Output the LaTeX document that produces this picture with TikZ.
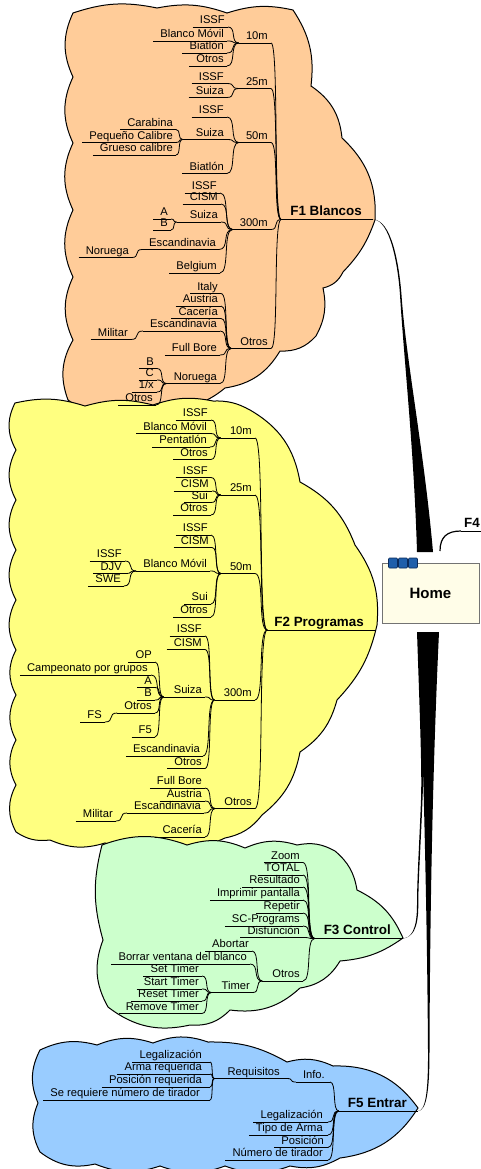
\documentclass[tikz,border=0pt]{standalone}
\usepackage{fontspec}
\setmainfont{Liberation Sans}
\usetikzlibrary{calc}
\definecolor{cFa}{HTML}{FFCC99}
\definecolor{cFb}{HTML}{FFFF80}
\definecolor{cFc}{HTML}{CCFFCC}
\definecolor{cFe}{HTML}{99CCFF}
\definecolor{homefill}{HTML}{FFFDE8}
\definecolor{sqfill}{HTML}{1F5FAA}
\definecolor{sqdraw}{HTML}{0A2A5A}
\tikzset{
  lpad/.initial=6pt,
  rpad/.initial=2pt,
  tlpad/.initial=9pt,
  trpad/.initial=11pt,
  ul/.style={draw=black, line width=0.8pt},
  cn/.style={draw=black, line width=0.8pt},
  lf/.style={font=\fontsize{11.2}{13}\selectfont, inner xsep=1pt, inner ysep=3pt, text depth=0pt, anchor=south east,
    execute at begin node={\hspace*{\pgfkeysvalueof{/tikz/lpad}}},
    execute at end node={\hspace*{\pgfkeysvalueof{/tikz/rpad}}},
    append after command={(\tikzlastnode.south west) edge[ul] (\tikzlastnode.south east)}},
  ttl/.style={font=\fontsize{13.4}{16}\selectfont\bfseries, inner xsep=0pt, inner ysep=3.5pt, text depth=0pt, anchor=south east,
    execute at begin node={\hspace*{\pgfkeysvalueof{/tikz/tlpad}}},
    execute at end node={\hspace*{\pgfkeysvalueof{/tikz/trpad}}},
    append after command={(\tikzlastnode.south west) edge[ul] (\tikzlastnode.south east)}},
  cloud/.style={draw=black, line width=1pt},
  bo/.style={bend left=#1},
}
\newcommand\cnx[2]{\draw[cn] let \p1=(#1.south east), \p2=(#2.south west), \n1={max(0.8*(\x2-\x1),2)} in (\p1) .. controls +(\n1,0) and +(-\n1,0) .. (\p2);}
\begin{document}
\begin{tikzpicture}[x=1pt,y=-1pt]
\useasboundingbox (0,0) rectangle (481,1169);
% ---------- clouds ----------
\path[cloud, fill=cFa] (73,13) to[bo=15] (157,8) to[bo=15] (227,13) to[bo=15] (293,10) to[bo=20] (311,86) to[bo=25] (342,138) to[bo=25] (375,220) to[bo=12] (343,272) to[bo=25] (323,288) to[bo=20] (316,336) to[bo=25] (280,351) to[bo=25] (225,388) to[bo=25] (160,405) to[bo=20] (100,410) to[bo=20] (68,400) to[bo=25] (73,340) to[bo=25] (73,277) to[bo=25] (73,210) to[bo=25] (73,143) to[bo=25] (73,77) to[bo=25] (73,13) -- cycle;
\path[cloud, fill=cFb] (15,403) to[bo=15] (85,406) to[bo=15] (153,405) to[bo=15] (213,401) to[bo=15] (250,410) to[bo=25] (300,482) to[bo=20] (355,545) to[bo=20] (377,625) to[bo=15] (337,700) to[bo=20] (300,752) to[bo=20] (262,815) to[bo=20] (225,838) to[bo=20] (165,843) to[bo=20] (105,843) to[bo=20] (50,840) to[bo=20] (16,832) to[bo=28] (16,785) to[bo=28] (16,740) to[bo=28] (16,695) to[bo=28] (16,650) to[bo=28] (16,600) to[bo=28] (16,550) to[bo=28] (16,500) to[bo=28] (16,450) to[bo=28] (15,403) -- cycle;
\path[cloud, fill=cFc] (102,845) to[bo=20] (187,845) to[bo=20] (245,848) to[bo=20] (297,845) to[bo=20] (335,851) to[bo=20] (357,890) to[bo=20] (403,938) to[bo=15] (340,961) to[bo=25] (300,988) to[bo=25] (230,1010) to[bo=25] (190,1025) to[bo=25] (108,1007) to[bo=25] (103,940) to[bo=15] (102,845) -- cycle;
\path[cloud, fill=cFe] (40,1050) to[bo=20] (97,1045) to[bo=20] (153,1043) to[bo=20] (208,1042) to[bo=15] (287,1062) to[bo=20] (333,1066) to[bo=28] (418,1108) to[bo=25] (340,1158) to[bo=20] (290,1166) to[bo=20] (225,1166) to[bo=20] (160,1166) to[bo=20] (95,1164) to[bo=25] (40,1152) to[bo=25] (38,1103) to[bo=25] (40,1050) -- cycle;
% ---------- Home ----------
\node[draw=gray!90!black, line width=0.8pt, fill=homefill, minimum width=97pt, minimum height=60pt, inner sep=0pt,
      font=\fontsize{15}{18}\selectfont\bfseries] (home) at (430.5,593) {Home};
\foreach \i in {0,1,2} {\filldraw[fill=sqfill, draw=sqdraw, line width=0.6pt, rounded corners=1pt] (388.5+10*\i,558) rectangle ++(9,10);}
% ---------- F1 ----------
\node[ttl] (f1) at (373,219.5) {F1 Blancos};
\node[lf] (m10) at (271,43) {10m};
\node[lf] (m10a) at (228,27) {ISSF};
\node[lf] (m10b) at (227,41) {Blanco Móvil};
\node[lf] (m10c) at (227,53) {Biatlón};
\node[lf] (m10d) at (227,66) {Otros};
\node[lf] (m25) at (271,88.5) {25m};
\node[lf] (m25a) at (227,83.5) {ISSF};
\node[lf] (m25b) at (227,97.5) {Suiza};
\node[lf] (m50) at (271,142.5) {50m};
\node[lf] (m50a) at (227,117) {ISSF};
\node[lf, lpad=12pt] (m50b) at (227,139.5) {Suiza};
\node[lf] (m50b1) at (176,129.5) {Carabina};
\node[lf] (m50b2) at (176,142.5) {Pequeño Calibre};
\node[lf] (m50b3) at (176,155) {Grueso calibre};
\node[lf] (m50c) at (227,173.5) {Biatlón};
\node[lf] (m300) at (271,229.5) {300m};
\node[lf] (m300a) at (220,193) {ISSF};
\node[lf] (m300b) at (221,204) {CISM};
\node[lf, lpad=12pt] (m300c) at (221,222) {Suiza};
\node[lf] (m300c1) at (171,219) {A};
\node[lf] (m300c2) at (171,230) {B};
\node[lf] (m300d) at (219,249.5) {Escandinavia};
\node[lf] (m300d1) at (132,257.5) {Noruega};
\node[lf] (m300e) at (220,273) {Belgium};
\node[lf, lpad=8pt] (fo) at (271,348.5) {Otros};
\node[lf] (fo1) at (221,293.5) {Italy};
\node[lf] (fo2) at (221,306) {Austria};
\node[lf] (fo3) at (221,318.5) {Cacería};
\node[lf] (fo4) at (220,331) {Escandinavia};
\node[lf] (fo41) at (131,339.5) {Militar};
\node[lf] (fo5) at (220,355) {Full Bore};
\node[lf] (fo6) at (220,383.5) {Noruega};
\node[lf] (fo61) at (157,368.5) {B};
\node[lf] (fo62) at (157,380) {C};
\node[lf] (fo63) at (157,392) {1/x};
\node[lf] (fo64) at (156,405) {Otros};
\foreach \ch/\pr in {m10/f1,m25/f1,m50/f1,m300/f1,fo/f1,
  m10a/m10,m10b/m10,m10c/m10,m10d/m10,m25a/m25,m25b/m25,
  m50a/m50,m50b/m50,m50c/m50,m50b1/m50b,m50b2/m50b,m50b3/m50b,
  m300a/m300,m300b/m300,m300c/m300,m300d/m300,m300e/m300,m300c1/m300c,m300c2/m300c,m300d1/m300d,
  fo1/fo,fo2/fo,fo3/fo,fo4/fo,fo5/fo,fo6/fo,fo41/fo4,fo61/fo6,fo62/fo6,fo63/fo6,fo64/fo6} {\cnx{\ch}{\pr}}
% ---------- F2 ----------
\node[ttl, tlpad=7pt] (f2) at (375,630) {F2 Programas};
\node[lf, lpad=8pt] (p10) at (255,438) {10m};
\node[lf] (p10a) at (211,420) {ISSF};
\node[lf] (p10b) at (210,433.5) {Blanco Móvil};
\node[lf] (p10c) at (210,447) {Pentatlón};
\node[lf] (p10d) at (211,459.5) {Otros};
\node[lf, lpad=8pt] (p25) at (255,495) {25m};
\node[lf] (p25a) at (211,477.5) {ISSF};
\node[lf] (p25b) at (212,491) {CISM};
\node[lf] (p25c) at (211,502.5) {Sui};
\node[lf] (p25d) at (211,515) {Otros};
\node[lf, lpad=8pt] (p50) at (255,573.5) {50m};
\node[lf] (p50a) at (211,535) {ISSF};
\node[lf] (p50b) at (212,547.5) {CISM};
\node[lf] (p50c) at (210,571) {Blanco Móvil};
\node[lf] (p50c1) at (125,561) {ISSF};
\node[lf] (p50c2) at (125,573.5) {DJV};
\node[lf] (p50c3) at (124,586) {SWE};
\node[lf] (p50d) at (211,604) {Sui};
\node[lf] (p50e) at (211,617) {Otros};
\node[lf, lpad=8pt] (p300) at (255,700) {300m};
\node[lf] (p300a) at (205,636) {ISSF};
\node[lf] (p300b) at (205,649.5) {CISM};
\node[lf, lpad=9pt] (p300c) at (205,697) {Suiza};
\node[lf] (p300c1) at (155,662) {OP};
\node[lf] (p300c2) at (151,675) {Campeonato por grupos};
\node[lf] (p300c3) at (155,687.5) {A};
\node[lf] (p300c4) at (155,700) {B};
\node[lf] (p300c5) at (155,713) {Otros};
\node[lf] (p300c51) at (105,722) {FS};
\node[lf] (p300c6) at (155,737) {F5};
\node[lf] (p300d) at (203,756) {Escandinavia};
\node[lf] (p300e) at (205,768.5) {Otros};
\node[lf, lpad=8pt] (po) at (255,808.5) {Otros};
\node[lf] (po1) at (205,788) {Full Bore};
\node[lf] (po2) at (205,801) {Austria};
\node[lf] (po3) at (204,813) {Escandinavia};
\node[lf] (po31) at (116,821) {Militar};
\node[lf] (po4) at (205,837) {Cacería};
\foreach \ch/\pr in {p10/f2,p25/f2,p50/f2,p300/f2,po/f2,
  p10a/p10,p10b/p10,p10c/p10,p10d/p10,p25a/p25,p25b/p25,p25c/p25,p25d/p25,
  p50a/p50,p50b/p50,p50c/p50,p50d/p50,p50e/p50,p50c1/p50c,p50c2/p50c,p50c3/p50c,
  p300a/p300,p300b/p300,p300c/p300,p300d/p300,p300e/p300,
  p300c1/p300c,p300c2/p300c,p300c3/p300c,p300c4/p300c,p300c5/p300c,p300c6/p300c,p300c51/p300c5,
  po1/po,po2/po,po3/po,po4/po,po31/po3} {\cnx{\ch}{\pr}}
% ---------- F3 ----------
\node[ttl] (f3) at (402,938.5) {F3 Control};
\node[lf] (c1) at (303,862.5) {Zoom};
\node[lf] (c2) at (303,875) {TOTAL};
\node[lf] (c3) at (303,887) {Resultado};
\node[lf] (c4) at (303,900) {Imprimir pantalla};
\node[lf] (c5) at (303,913) {Repetir};
\node[lf] (c6) at (303,926) {SC-Programs};
\node[lf] (c7) at (303,937.5) {Disfunción};
\node[lf, lpad=9pt] (c8) at (303,981) {Otros};
\node[lf] (c81) at (252,951) {Abortar};
\node[lf] (c82) at (250,964) {Borrar ventana del blanco};
\node[lf, lpad=9pt] (c83) at (253,992.5) {Timer};
\node[lf] (c831) at (202,976) {Set Timer};
\node[lf] (c832) at (202,989) {Start Timer};
\node[lf] (c833) at (202,1001) {Reset Timer};
\node[lf] (c834) at (202,1013.5) {Remove Timer};
\foreach \ch/\pr in {c1/f3,c2/f3,c3/f3,c4/f3,c5/f3,c6/f3,c7/f3,c8/f3,
  c81/c8,c82/c8,c83/c8,c831/c83,c832/c83,c833/c83,c834/c83} {\cnx{\ch}{\pr}}
% ---------- F5 ----------
\node[ttl] (f5) at (418,1111) {F5 Entrar};
\node[lf, rpad=4pt] (e1) at (330,1082) {Info.};
\node[lf, lpad=12pt, rpad=6pt] (e11) at (287,1078.5) {Requisitos};
\node[lf, rpad=7pt] (e111) at (210,1062) {Legalización};
\node[lf, rpad=7pt] (e112) at (210,1074) {Arma requerida};
\node[lf, rpad=7pt] (e113) at (210,1087) {Posición requerida};
\node[lf, rpad=9pt] (e114) at (210,1100) {Se requiere número de tirador};
\node[lf, rpad=4pt] (e2) at (328,1122) {Legalización};
\node[lf, rpad=4pt] (e3) at (328,1135) {Tipo de Arma};
\node[lf, rpad=3pt] (e4) at (328,1147.5) {Posición};
\node[lf, rpad=4pt] (e5) at (328,1160) {Número de tirador};
\foreach \ch/\pr in {e1/f5,e2/f5,e3/f5,e4/f5,e5/f5,e11/e1,e111/e11,e112/e11,e113/e11,e114/e11} {\cnx{\ch}{\pr}}
% ---------- F4 ----------
\node[ttl, anchor=south west, tlpad=3pt, trpad=2pt] (f4) at (461,531) {F4};
\coordinate (hf4) at (440,551);
\draw[cn, line width=1.2pt] (hf4) .. controls (440,537) and (447,531) .. (f4.south west);
% ---------- main wedges ----------
\fill[black] (f1.south east) .. controls +(17,0) and (398,265) .. (400,295) .. controls (404,360) and (414,450) .. (417,552) -- (433,552) .. controls (424,450) and (406,360) .. (401.5,295) .. controls (399,262) and (391,219.5) .. (f1.south east) -- cycle;
\fill[black] (417,632) .. controls (420,720) and (422,770) .. (421,800) .. controls (419,850) and (417,880) .. (417,905) .. controls (417,930) and (411,938.5) .. (f3.south east) .. controls (412,937.7) and (418.3,930) .. (418.3,905) .. controls (418.3,880) and (420.5,850) .. (422.5,800) .. controls (424,760) and (427,700) .. (431,632) -- cycle;
\fill[black] (419,632) .. controls (423,760) and (427,900) .. (428,1050) .. controls (428.3,1095) and (425,1111) .. (f5.south east) .. controls (426,1110.3) and (429.5,1095) .. (429.5,1050) .. controls (430,900) and (433,760) .. (439,632) -- cycle;
\end{tikzpicture}
\end{document}
